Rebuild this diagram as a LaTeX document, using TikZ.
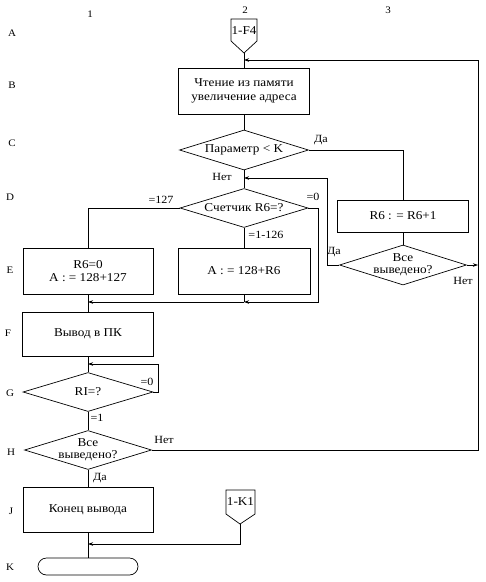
\documentclass[tikz,border=0pt]{standalone}
\usepackage{fontspec}
\setmainfont{Liberation Serif}[FakeStretch=1.1]
\usetikzlibrary{shapes.geometric,arrows.meta}
\begin{document}
\begin{tikzpicture}[x=1pt,y=-1pt,
  font=\fontsize{12}{13.5}\selectfont,
  line width=0.7pt,
  box/.style={draw, rectangle, inner sep=0pt, align=center},
  dec/.style={draw, diamond, inner sep=0pt},
  dtext/.style={inner sep=0pt, align=center},
  term/.style={draw, rectangle, rounded corners=8.5pt, minimum width=100pt, minimum height=17pt, inner sep=0pt},
  lbl/.style={inner sep=0pt, font=\fontsize{11}{12}\selectfont},
  rowl/.style={inner sep=0pt, font=\fontsize{10}{12}\selectfont},
  jarr/.style={-{Stealth[length=5pt,width=3.5pt]}},
  conn/.style={draw, line width=0.7pt}
]
\useasboundingbox (0,0) rectangle (486,582);

% column and row labels
\node[rowl] (c1) at (90,14) {1};
\node[rowl] (c2) at (245,10) {2};
\node[rowl] (c3) at (388,10) {3};
\node[rowl] (rA) at (12,33) {A};
\node[rowl] (rB) at (12,85) {B};
\node[rowl] (rC) at (12,143) {C};
\node[rowl] (rD) at (10,197) {D};
\node[rowl] (rE) at (10,270) {E};
\node[rowl] (rF) at (8,333) {F};
\node[rowl] (rG) at (10,393) {G};
\node[rowl] (rH) at (11,452) {H};
\node[rowl] (rJ) at (11,511) {J};
\node[rowl] (rK) at (10,567) {K};

% off-page connectors
\draw[conn] (231,19) -- (257,19) -- (257,41) -- (244,53) -- (231,41) -- cycle;
\node[inner sep=0pt] (cF) at (244,31) {1-F4};
\coordinate (cFtip) at (244,53);
\draw[conn] (226,490) -- (255,490) -- (255,514) -- (240,524) -- (226,514) -- cycle;
\node[inner sep=0pt] (cK) at (240.5,502) {1-K1};
\coordinate (cKtip) at (240,524);

% blocks
\node[box, minimum width=131pt, minimum height=46pt] (B) at (244,91) {Чтение из памяти\\увеличение адреса};
\node[dec, minimum width=129pt, minimum height=40pt] (C) at (244,150) {};
\node[dtext] (Ct) at (C.center) {Параметр < K};
\node[dec, minimum width=128pt, minimum height=39pt] (D) at (244,208) {};
\node[dtext] (Dt) at (D.center) {Счетчик R6=?};
\node[box, minimum width=130pt, minimum height=46pt] (E1) at (88,271) {R6=0\\A : = 128+127};
\node[box, minimum width=132pt, minimum height=46pt] (E2) at (244,271) {A : = 128+R6};
\node[box, minimum width=131pt, minimum height=32pt] (R) at (403,216) {R6 : = R6+1};
\node[dec, minimum width=127pt, minimum height=40pt] (V) at (403,265) {};
\node[dtext, font=\fontsize{12}{12}\selectfont] (Vt) at (V.center) {Все\\выведено?};
\node[box, minimum width=131pt, minimum height=44pt] (F) at (88,334) {Вывод в ПК};
\node[dec, minimum width=130pt, minimum height=39pt] (G) at (88,392) {};
\node[dtext] (Gt) at (G.center) {RI=?};
\node[dec, minimum width=127pt, minimum height=39pt] (H) at (88,450) {};
\node[dtext, font=\fontsize{12}{12}\selectfont] (Ht) at (H.center) {Все\\выведено?};
\node[box, minimum width=130pt, minimum height=45pt] (J) at (88,510) {Конец вывода};
\node[term] (K) at (88,566.5) {};

% junction points
\coordinate (j1) at (244,60);
\coordinate (j2) at (244,178);
\coordinate (j3a) at (88,302);
\coordinate (j3b) at (244,302);
\coordinate (j4) at (88,364);
\coordinate (j5) at (88,544);

% main flow
\draw (cFtip) -- (B.north);
\draw (B.south) -- (C.north);
\draw (C.south) -- (D.north);
\draw (D.south) -- (E2.north);
\draw (D.west) -| (E1.north);
\draw (E1.south) -- (F.north);
\draw (E2.south) -- (j3b);
\draw (F.south) -- (G.north);
\draw (G.south) -- (H.north);
\draw (H.south) -- (J.north);
\draw (J.south) -- (K.north);
\draw (C.east) -| (R.north);
\draw (R.south) -- (V.north);

% loops with arrows into junctions
\draw[jarr] (D.east) -- (318,208) -- (318,302) -- (j3b);
\draw[jarr] (j3b) -- (j3a);
\draw[jarr] (V.west) -- (327,265) -- (327,178) -- (j2);
\draw[jarr] (H.east) -- (478,450) -- (478,60) -- (j1);
\draw[jarr] (V.east) -- (478,265);
\draw[jarr] (G.east) -- (158,392) -- (158,364) -- (j4);
\draw[jarr] (cKtip) -- (240,544) -- (j5);

% labels
\node[lbl] (lDa1) at (321,140) {Да};
\node[lbl] (lNet1) at (222,177) {Нет};
\node[lbl] (l127) at (161,200) {=127};
\node[lbl] (l0a) at (313,197) {=0};
\node[lbl] (l126) at (266,235) {=1-126};
\node[lbl] (lDa2) at (334,252) {Да};
\node[lbl] (lNet2) at (463,281) {Нет};
\node[lbl] (l0b) at (147,382) {=0};
\node[lbl] (l1) at (97,418) {=1};
\node[lbl] (lNet3) at (164,440) {Нет};
\node[lbl] (lDa3) at (100,478) {Да};
\end{tikzpicture}
\end{document}
